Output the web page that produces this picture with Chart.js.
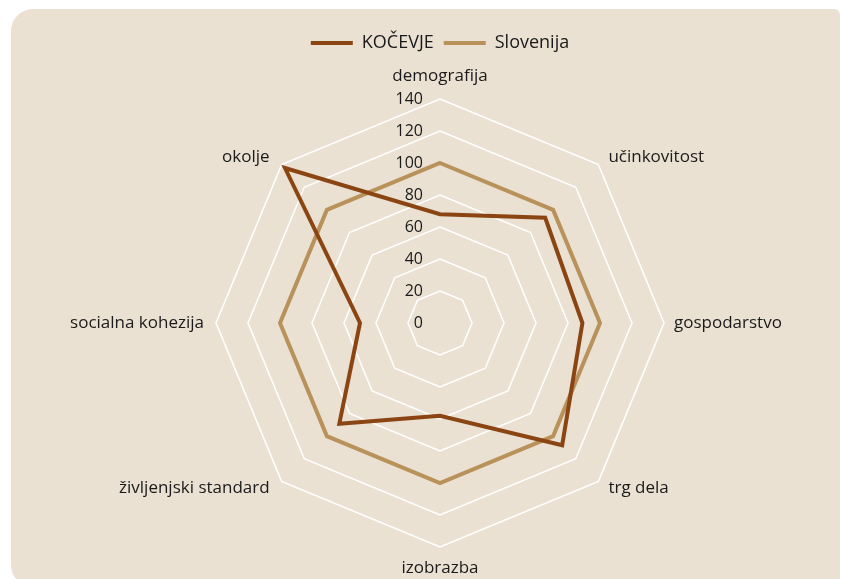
<!DOCTYPE html>
<html><head><meta charset="utf-8">
<script src="https://cdn.jsdelivr.net/npm/chart.js@4/dist/chart.umd.min.js"></script>
<style>
html,body{margin:0;padding:0;background:#fff;overflow:hidden;width:841px;height:579px;}
#bg{position:absolute;left:11px;top:9px;width:829px;height:578px;border-radius:22px 6px 6px 22px;background:#EAE1D2;}
#wrap{position:absolute;left:0;top:0;width:841px;height:579px;}
</style></head><body>
<div id="bg"></div>
<div id="wrap"><canvas id="c" width="841" height="579"></canvas></div>
<script>
const categories = ['demografija', 'učinkovitost', 'gospodarstvo', 'trg dela', 'izobrazba', 'življenjski standard', 'socialna kohezija', 'okolje'];
const kocevje = [68, 93, 89, 108, 58, 89, 50, 137];
const slovenija = [100, 100, 100, 100, 100, 100, 100, 100];
const tickLabels = ['0', '20', '40', '60', '80', '100', '120', '140'];
const seriesNames = ['KOČEVJE', 'Slovenija'];

const textColor = '#1a1a1a';
const FONT = '"Open Sans", "DejaVu Sans", sans-serif';

const legendSpacing = {
  id: 'legendSpacing',
  beforeInit(chart) {
    const legend = chart.legend;
    if (!legend) return;
    const origFit = legend.fit;
    legend.fit = function () { origFit.call(this); this.height += 5; };
  }
};

const labelPlugin = {
  id: 'customLabels',
  afterDraw(chart) {
    const s = chart.scales.r;
    const ctx = chart.ctx;
    ctx.save();
    ctx.fillStyle = textColor;
    ctx.font = '17px ' + FONT;
    ctx.textBaseline = 'middle';
    const R = s.drawingArea;
    categories.forEach((lab, i) => {
      const p = s.getPointPosition(i, R);
      const dx = p.x - s.xCenter, dy = p.y - s.yCenter;
      let x = p.x, y = p.y, align = 'center';
      const sy = Math.abs(dy) < 1 ? 0 : Math.sign(dy);
      if (Math.abs(dx) < 1) {
        y += dy < 0 ? -23 : 21;
      } else if (dx > 0) {
        align = 'left'; x += 10; y += sy * 7;
      } else {
        align = 'right'; x -= 12; y += sy * 7;
      }
      ctx.textAlign = align;
      ctx.fillText(lab, x, y);
    });
    ctx.font = '16px ' + FONT;
    ctx.textAlign = 'right';
    s.ticks.forEach((t, i) => {
      const d = s.getDistanceFromCenterForValue(t.value);
      ctx.fillText(tickLabels[i], s.xCenter - 17, s.yCenter - d);
    });
    ctx.restore();
  }
};

new Chart(document.getElementById('c'), {
  type: 'radar',
  data: {
    labels: categories,
    datasets: [
      { label: seriesNames[0], data: kocevje, borderColor: '#8B4513', backgroundColor: '#8B4513', borderWidth: 4, fill: false, pointRadius: 0, pointHoverRadius: 0, borderJoinStyle: 'miter', tension: 0 },
      { label: seriesNames[1], data: slovenija, borderColor: '#B8925A', backgroundColor: '#B8925A', borderWidth: 4, fill: false, pointRadius: 0, pointHoverRadius: 0, borderJoinStyle: 'miter', tension: 0 }
    ]
  },
  options: {
    responsive: false,
    animation: false,
    layout: { padding: { left: 216, right: 177, top: 24, bottom: 0 } },
    plugins: {
      legend: {
        position: 'top',
        labels: {
          usePointStyle: true,
          pointStyle: 'line',
          pointStyleWidth: 42,
          color: textColor,
          padding: 10,
          font: { family: FONT, size: 18 }
        }
      },
      tooltip: { enabled: false }
    },
    scales: {
      r: {
        min: 0, max: 140,
        ticks: { stepSize: 20, display: false },
        grid: { color: '#ffffff', lineWidth: 1.5 },
        angleLines: { display: false },
        pointLabels: { display: false }
      }
    }
  },
  plugins: [legendSpacing, labelPlugin]
});
</script>
</body></html>
